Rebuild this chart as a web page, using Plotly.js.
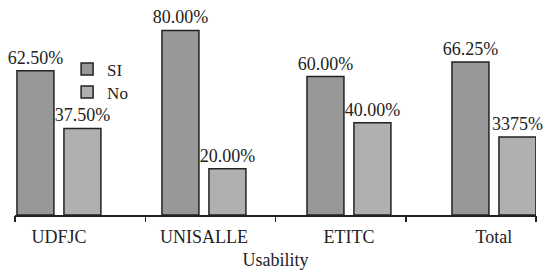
<!DOCTYPE html>
<html>
<head>
<meta charset="utf-8">
<script src="https://cdn.plot.ly/plotly-3.0.1.min.js"></script>
<style>html,body{margin:0;padding:0;background:#fff;}#chart{width:546px;height:273px;}</style>
</head>
<body>
<div id="chart"></div>
<script>
// ---- data ----
const categories = ["UDFJC", "UNISALLE", "ETITC", "Total"];
const siValues = [62.5, 80.0, 60.0, 66.25];
const noValues = [37.5, 20.0, 40.0, 33.75];
const siLabels = ["62.50%", "80.00%", "60.00%", "66.25%"];
const noLabels = ["37.50%", "20.00%", "40.00%", "3375%"];
const seriesNames = ["SI", "No"];
const boundaryTicks = [0, 1, 2, 3, 4];
const boundaryBase = [0, 0, 0, 0, 0];

const FONT = "Liberation Serif";
const INK = "#222222";

const traces = [
  {
    type: "bar", name: seriesNames[0], x: categories, y: siValues, legend: "legend",
    text: siLabels, textposition: "outside", cliponaxis: false, constraintext: "none",
    textfont: {family: FONT, size: 18, color: INK},
    marker: {color: "#989898", line: {color: INK, width: 1.5}},
    hoverinfo: "skip"
  },
  {
    type: "bar", name: seriesNames[1], x: categories, y: noValues, legend: "legend2",
    text: noLabels, textposition: "outside", cliponaxis: false, constraintext: "none",
    textfont: {family: FONT, size: 18, color: INK},
    marker: {color: "#b0b0b0", line: {color: INK, width: 1.5}},
    hoverinfo: "skip"
  },
  {
    type: "scatter", xaxis: "x2", yaxis: "y", x: boundaryTicks, y: boundaryBase,
    mode: "markers", marker: {opacity: 0, size: 1}, showlegend: false, hoverinfo: "skip"
  }
];

const legendStyle = (yPos) => ({
  x: 0.1, y: yPos, xanchor: "left", yanchor: "middle",
  bgcolor: "rgba(0,0,0,0)", borderwidth: 0,
  font: {family: FONT, size: 17, color: INK}
});

const layout = {
  width: 546, height: 273,
  margin: {l: 15, r: 10, t: 5, b: 58},
  paper_bgcolor: "#ffffff", plot_bgcolor: "#ffffff",
  font: {family: FONT, size: 18, color: INK},
  barmode: "group", bargap: 0.352, bargroupgap: 0.213,
  showlegend: true,
  legend: legendStyle(0.693),
  legend2: legendStyle(0.583),
  xaxis: {
    type: "category", range: [-0.303, 3.29],
    showline: true, linecolor: INK, linewidth: 1.5,
    ticks: "", showgrid: false, zeroline: false,
    tickfont: {family: FONT, size: 18, color: INK},
    ticklabelstandoff: 5,
    title: {text: "Usability", font: {family: FONT, size: 18, color: INK}, standoff: 7},
    fixedrange: true
  },
  xaxis2: {
    type: "linear", overlaying: "x", anchor: "y", side: "bottom",
    range: [0, 4], tickmode: "array", tickvals: boundaryTicks,
    ticks: "outside", ticklen: 6, tickwidth: 1.5, tickcolor: INK,
    showticklabels: false, showline: false, showgrid: false, zeroline: false,
    fixedrange: true
  },
  yaxis: {
    range: [0, 91], visible: false, showgrid: false, zeroline: false,
    fixedrange: true
  }
};

Plotly.newPlot("chart", traces, layout, {displayModeBar: false, staticPlot: true});
</script>
</body>
</html>
